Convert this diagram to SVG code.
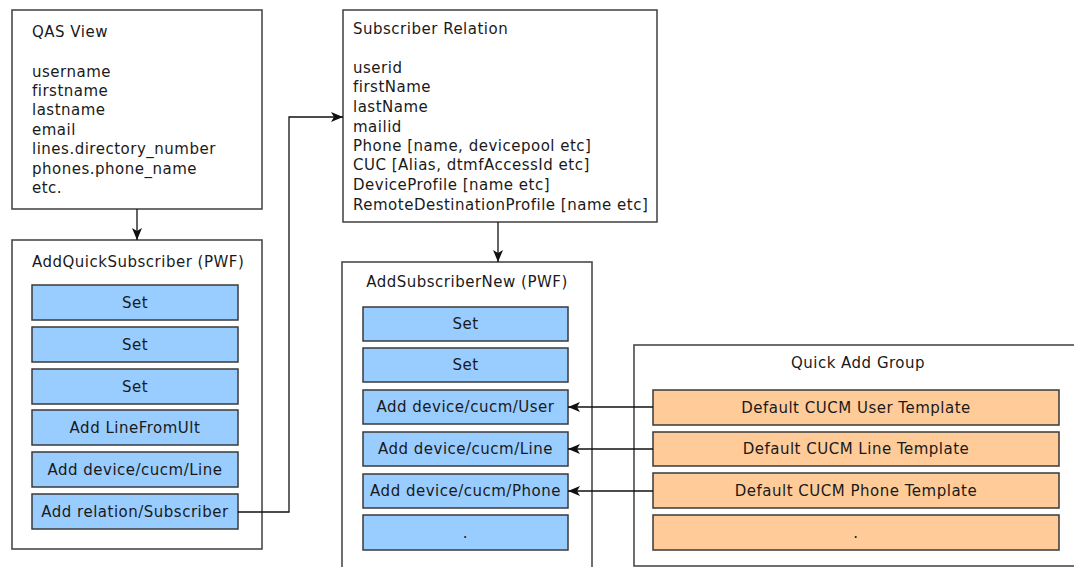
<svg xmlns="http://www.w3.org/2000/svg" width="1074" height="567" viewBox="0 0 1074 567">
<style>
text{font-family:"DejaVu Sans","Liberation Sans",sans-serif;font-size:15px;letter-spacing:0.5px;fill:#1a1a1a}
.c{text-anchor:middle}
.box{fill:#fff;stroke:#4a4a4a;stroke-width:1.6}
.blue{fill:#99ccff;stroke:#3a3a3a;stroke-width:1.5}
.orange{fill:#ffcc99;stroke:#3a3a3a;stroke-width:1.5}
.line{fill:none;stroke:#111;stroke-width:1.3}
</style>
<defs>
<marker id="ah" viewBox="0 0 12 10" refX="12" refY="5" markerWidth="12" markerHeight="10" markerUnits="userSpaceOnUse" orient="auto">
<path d="M0,0 L12,5 L0,10 L3,5 Z" fill="#111"/>
</marker>
</defs>
<rect width="1074" height="567" fill="#fff"/>

<g id="qas-view">
<rect class="box" x="12" y="10" width="250" height="199"/>
<text x="32" y="37">QAS View</text>
<text x="32" y="77">username</text>
<text x="32" y="96">firstname</text>
<text x="32" y="115">lastname</text>
<text x="32" y="135">email</text>
<text x="32" y="154">lines.directory_number</text>
<text x="32" y="174">phones.phone_name</text>
<text x="32" y="193">etc.</text>
</g>

<g id="add-quick-subscriber">
<rect class="box" x="12" y="240" width="250" height="309"/>
<text x="32" y="267">AddQuickSubscriber (PWF)</text>
<rect class="blue" x="32" y="285" width="206" height="35"/>
<text class="c" x="135" y="308">Set</text>
<rect class="blue" x="32" y="327" width="206" height="35"/>
<text class="c" x="135" y="350">Set</text>
<rect class="blue" x="32" y="369" width="206" height="35"/>
<text class="c" x="135" y="392">Set</text>
<rect class="blue" x="32" y="410" width="206" height="35"/>
<text class="c" x="135" y="433">Add LineFromUlt</text>
<rect class="blue" x="32" y="452" width="206" height="35"/>
<text class="c" x="135" y="475">Add device/cucm/Line</text>
<rect class="blue" x="32" y="494" width="206" height="35"/>
<text class="c" x="135" y="517">Add relation/Subscriber</text>
</g>

<g id="subscriber-relation">
<rect class="box" x="343" y="10" width="314" height="212"/>
<text x="353" y="34">Subscriber Relation</text>
<text x="353" y="73">userid</text>
<text x="353" y="92">firstName</text>
<text x="353" y="112">lastName</text>
<text x="353" y="132">mailid</text>
<text x="353" y="151">Phone [name, devicepool etc]</text>
<text x="353" y="170">CUC [Alias, dtmfAccessId etc]</text>
<text x="353" y="190">DeviceProfile [name etc]</text>
<text x="353" y="210">RemoteDestinationProfile [name etc]</text>
</g>

<g id="add-subscriber-new">
<rect class="box" x="342" y="262" width="250" height="320"/>
<text class="c" x="467" y="287">AddSubscriberNew (PWF)</text>
<rect class="blue" x="363" y="307" width="205" height="34"/>
<text class="c" x="465.5" y="329">Set</text>
<rect class="blue" x="363" y="348" width="205" height="34"/>
<text class="c" x="465.5" y="370">Set</text>
<rect class="blue" x="363" y="390" width="205" height="34"/>
<text class="c" x="465.5" y="412">Add device/cucm/User</text>
<rect class="blue" x="363" y="432" width="205" height="34"/>
<text class="c" x="465.5" y="454">Add device/cucm/Line</text>
<rect class="blue" x="363" y="474" width="205" height="34"/>
<text class="c" x="465.5" y="496">Add device/cucm/Phone</text>
<rect class="blue" x="363" y="515" width="205" height="35"/>
<text class="c" x="465.5" y="538">.</text>
</g>

<g id="quick-add-group">
<rect class="box" x="634" y="345" width="460" height="221"/>
<text class="c" x="858" y="368">Quick Add Group</text>
<rect class="orange" x="653" y="390" width="406" height="35"/>
<text class="c" x="856" y="413">Default CUCM User Template</text>
<rect class="orange" x="653" y="432" width="406" height="34"/>
<text class="c" x="856" y="454">Default CUCM Line Template</text>
<rect class="orange" x="653" y="473" width="406" height="35"/>
<text class="c" x="856" y="496">Default CUCM Phone Template</text>
<rect class="orange" x="653" y="515" width="406" height="35"/>
<text class="c" x="856" y="538">.</text>
</g>

<g id="connectors">
<path class="line" d="M137,209 L137,240" marker-end="url(#ah)"/>
<path class="line" d="M238,512 L289,512 L289,117 L343,117" marker-end="url(#ah)"/>
<path class="line" d="M498,222 L498,262" marker-end="url(#ah)"/>
<path class="line" d="M653,407 L568,407" marker-end="url(#ah)"/>
<path class="line" d="M653,449 L568,449" marker-end="url(#ah)"/>
<path class="line" d="M653,491 L568,491" marker-end="url(#ah)"/>
</g>
</svg>
